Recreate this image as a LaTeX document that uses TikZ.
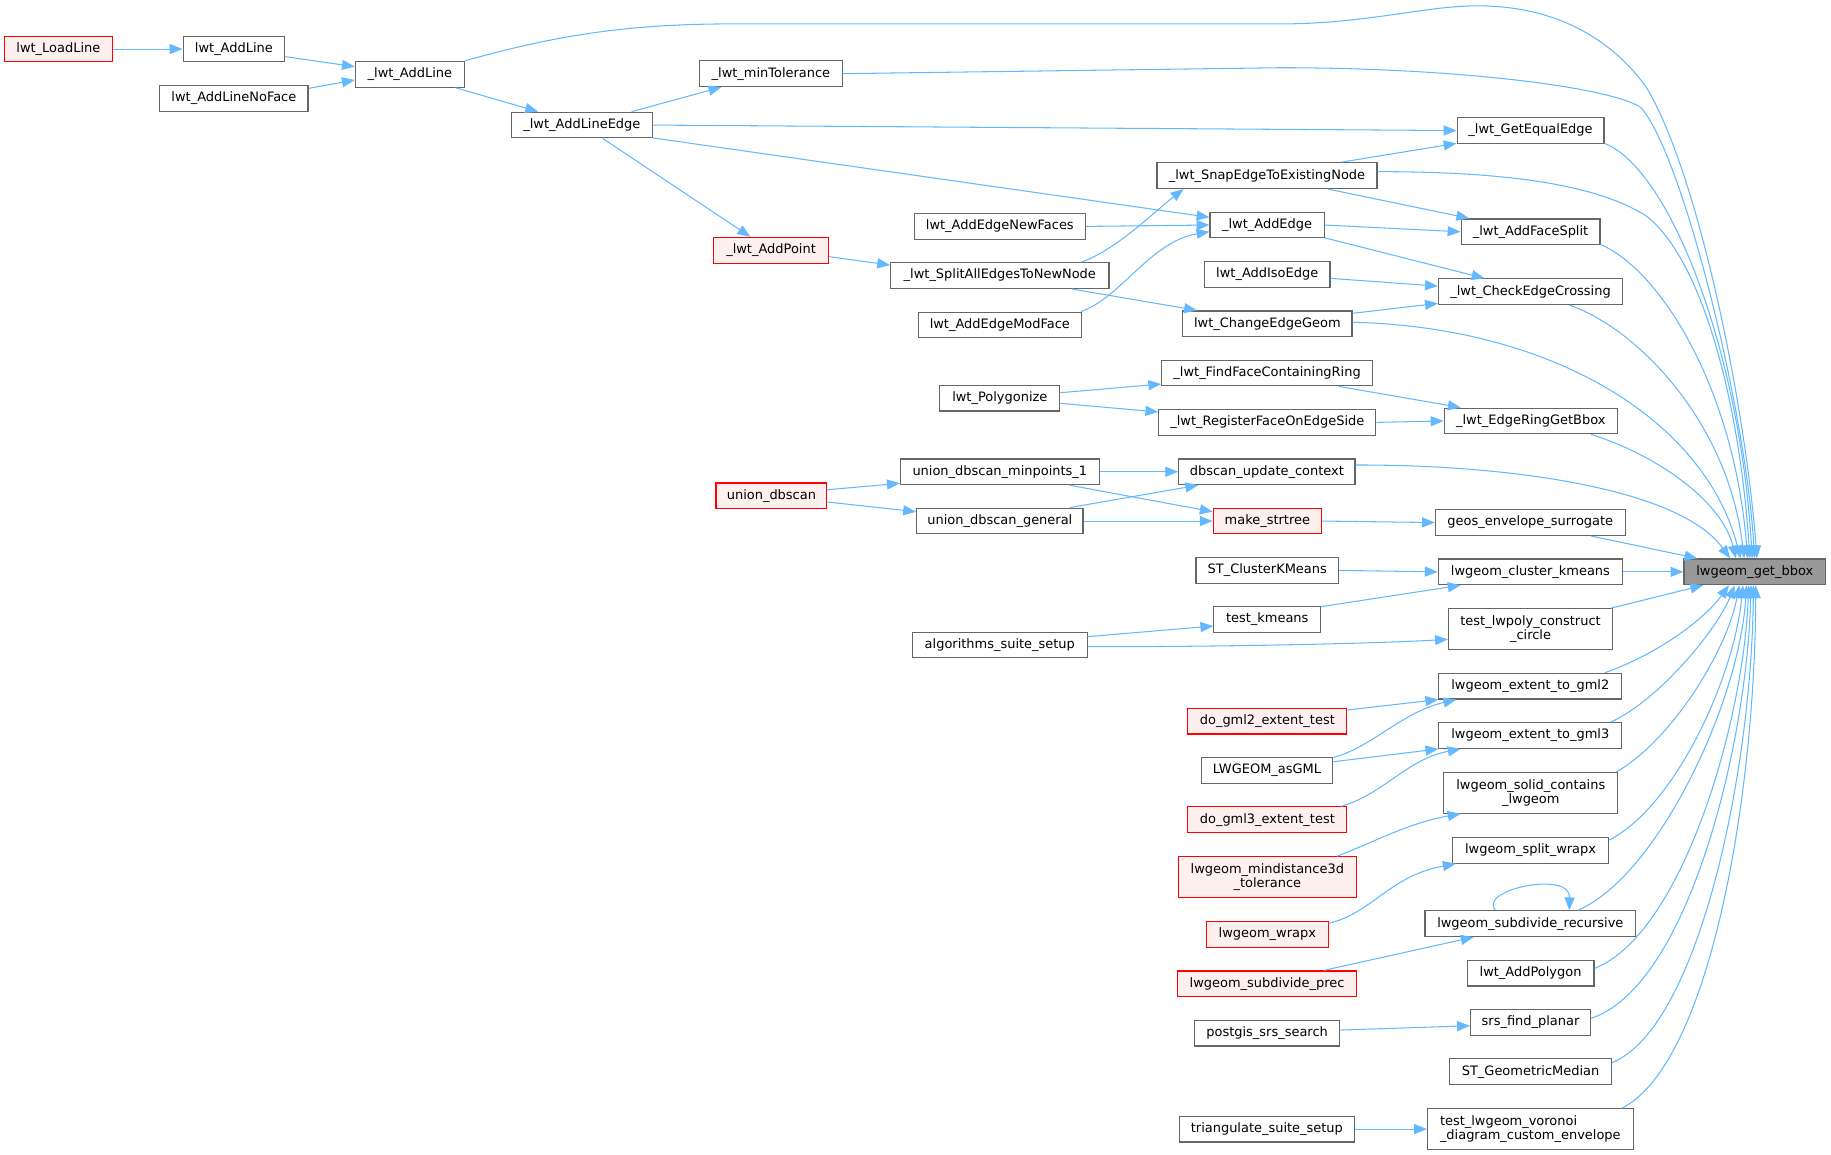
\documentclass[tikz,border=0pt]{standalone}
\usepackage{fontspec}
\setmainfont{DejaVu Sans}
\usetikzlibrary{arrows.meta}
\definecolor{edgeblue}{HTML}{63B8FF}
\definecolor{boxline}{HTML}{666666}
\definecolor{redline}{HTML}{FF0000}
\definecolor{redfill}{HTML}{FFF0F0}
\definecolor{mainfill}{HTML}{999999}
\begin{document}
\begin{tikzpicture}[x=1pt,y=-1pt,
  fn/.style={draw=boxline, fill=white, line width=1pt, minimum height=22pt, inner sep=0pt,
    font=\fontsize{11.1}{12.3}\selectfont, align=center},
  fn2/.style={fn, minimum height=34.7pt},
  redbox/.style={draw=redline, fill=redfill},
  mainbox/.style={fill=mainfill},
  call/.style={draw=edgeblue, line width=0.9pt, -{Triangle[length=11pt,width=8.6pt]}}]
\useasboundingbox (0,0) rectangle (1568,989.1);

\node[fn, redbox, minimum width=92pt] (nloadline) at (50,42) {lwt\_LoadLine};
\node[fn, minimum width=87pt] (naddline) at (200.3,42) {lwt\_AddLine};
\node[fn, minimum width=127pt] (nnoface) at (200.3,84.2) {lwt\_AddLineNoFace};
\node[fn, minimum width=93.3pt] (nuaddline) at (351,63.6) {\_lwt\_AddLine};
\node[fn, minimum width=122.4pt] (nmintol) at (660.2,63.1) {\_lwt\_minTolerance};
\node[fn, minimum width=120.4pt] (nlineedge) at (498.3,107.1) {\_lwt\_AddLineEdge};
\node[fn, minimum width=125.8pt] (ngetequal) at (1310.7,111.8) {\_lwt\_GetEqualEdge};
\node[fn, minimum width=188.5pt] (nsnap) at (1085,150.4) {\_lwt\_SnapEdgeToExistingNode};
\node[fn, minimum width=97.8pt] (naddedge) at (1085.1,192.7) {\_lwt\_AddEdge};
\node[fn, minimum width=146.4pt] (nnewfaces) at (856.2,193.9) {lwt\_AddEdgeNewFaces};
\node[fn, redbox, minimum width=98.6pt] (naddpoint) at (660.3,214.3) {\_lwt\_AddPoint};
\node[fn, minimum width=119pt] (nfacesplit) at (1310.7,198.5) {\_lwt\_AddFaceSplit};
\node[fn, minimum width=187pt] (nsplitall) at (856.2,236) {\_lwt\_SplitAllEdgesToNewNode};
\node[fn, minimum width=107.5pt] (nisoedge) at (1085.2,235) {lwt\_AddIsoEdge};
\node[fn, minimum width=157.7pt] (ncheck) at (1310.7,249.8) {\_lwt\_CheckEdgeCrossing};
\node[fn, minimum width=139.6pt] (nmodface) at (856.2,278.3) {lwt\_AddEdgeModFace};
\node[fn, minimum width=145pt] (nchange) at (1085.3,277.3) {lwt\_ChangeEdgeGeom};
\node[fn, minimum width=180.4pt] (nfindface) at (1085.1,319.4) {\_lwt\_FindFaceContainingRing};
\node[fn, minimum width=102.8pt] (npolygonize) at (856.2,341) {lwt\_Polygonize};
\node[fn, minimum width=185.9pt] (nregister) at (1085.3,361.7) {\_lwt\_RegisterFaceOnEdgeSide};
\node[fn, minimum width=148.5pt] (nedgering) at (1310.9,360.5) {\_lwt\_EdgeRingGetBbox};
\node[fn, minimum width=170.3pt] (nminpoints) at (856.2,404) {union\_dbscan\_minpoints\_1};
\node[fn, minimum width=151pt] (ndbupd) at (1084.9,404) {dbscan\_update\_context};
\node[fn, redbox, minimum width=94.8pt] (nudbscan) at (660.6,424.6) {union\_dbscan};
\node[fn, minimum width=142.5pt] (ngeneral) at (856.2,446.2) {union\_dbscan\_general};
\node[fn, redbox, minimum width=92.6pt] (nstrtree) at (1085.3,446.2) {make\_strtree};
\node[fn, minimum width=162.5pt] (ngeos) at (1310.5,447.5) {geos\_envelope\_surrogate};
\node[fn, mainbox, minimum width=121.3pt] (nbbox) at (1502.7,489.7) {lwgeom\_get\_bbox};
\node[fn, minimum width=157.7pt] (nkmeans) at (1310.6,489.7) {lwgeom\_cluster\_kmeans};
\node[fn, minimum width=122pt] (nstkmeans) at (1085.2,488.5) {ST\_ClusterKMeans};
\node[fn, minimum width=91.4pt] (ntestkmeans) at (1085.2,530.6) {test\_kmeans};
\node[fn, minimum width=149.5pt] (nalgsetup) at (856.2,552.3) {algorithms\_suite\_setup};
\node[fn2, minimum width=140.6pt] (ncircle) at (1310.7,538.7) {test\_lwpoly\_construct\\\_circle};
\node[fn, minimum width=156.6pt] (ngml2) at (1310.5,587.6) {lwgeom\_extent\_to\_gml2};
\node[fn, redbox, minimum width=136.1pt] (ngml2test) at (1085.3,617.6) {do\_gml2\_extent\_test};
\node[fn, minimum width=156.6pt] (ngml3) at (1310.5,629.9) {lwgeom\_extent\_to\_gml3};
\node[fn, minimum width=112.7pt] (nasgml) at (1085,659.6) {LWGEOM\_asGML};
\node[fn2, minimum width=149.2pt] (nsolid) at (1310.9,679) {lwgeom\_solid\_contains\\\_lwgeom};
\node[fn, redbox, minimum width=136.1pt] (ngml3test) at (1085.3,702) {do\_gml3\_extent\_test};
\node[fn2, redbox, minimum width=152.5pt] (nmind3d) at (1085.3,751.1) {lwgeom\_mindistance3d\\\_tolerance};
\node[fn, minimum width=133.8pt] (nsplitwrapx) at (1310.7,728.2) {lwgeom\_split\_wrapx};
\node[fn, redbox, minimum width=104.1pt] (nwrapx) at (1085.3,800.2) {lwgeom\_wrapx};
\node[fn, minimum width=180.4pt] (nsubrec) at (1310.5,791) {lwgeom\_subdivide\_recursive};
\node[fn, redbox, minimum width=153.6pt] (nsubprec) at (1085.1,842.5) {lwgeom\_subdivide\_prec};
\node[fn, minimum width=108.7pt] (naddpolygon) at (1310.7,833.3) {lwt\_AddPolygon};
\node[fn, minimum width=102.8pt] (nsrsplanar) at (1310.7,875.7) {srs\_find\_planar};
\node[fn, minimum width=124.6pt] (nsrssearch) at (1085.1,884.7) {postgis\_srs\_search};
\node[fn, minimum width=138.3pt] (ngeomedian) at (1310.7,917.8) {ST\_GeometricMedian};
\node[fn, minimum width=149.6pt] (ntrisetup) at (1084.9,966.9) {triangulate\_suite\_setup};
\node[fn2, minimum width=176pt, align=left] (nvoronoi) at (1310.5,966.9) {test\_lwgeom\_voronoi\\\_diagram\_custom\_envelope};

% left part
\draw[call] (nloadline.east) -- (naddline.west);
\draw[call] ([yshift=-6.5pt]naddline.east) -- ([yshift=6.5pt]nuaddline.west);
\draw[call] ([yshift=8.5pt]nnoface.east) -- ([yshift=-4.9pt]nuaddline.west);
\draw[call] ([xshift=39pt]nuaddline.south) -- ([xshift=-37.5pt]nlineedge.north);
\draw[call] ([xshift=42.6pt]nlineedge.north) -- ([xshift=-42.4pt]nmintol.south);
\draw[call] (nlineedge.east) -- (ngetequal.west);
\draw[call] ([xshift=17.8pt]nlineedge.south) -- ([xshift=-17.7pt]naddpoint.north);
\draw[call] ([yshift=0.5pt]nlineedge.south east) -- ([yshift=6.6pt]naddedge.west);
\draw[call] ([yshift=-5.5pt]naddpoint.east) -- ([yshift=9pt]nsplitall.west);
\draw[call] ([xshift=69.4pt]nsplitall.north) .. controls (955,215) and (990,180) .. ([xshift=-71.5pt]nsnap.south);
\draw[call] ([xshift=61.8pt]nsplitall.south) -- ([xshift=-60.3pt]nchange.north);
\draw[call] (nnewfaces.east) -- (naddedge.west);
\draw[call] ([xshift=69.4pt]nmodface.north) .. controls (960,255) and (985,207) .. ([yshift=-5.7pt]naddedge.west);
\draw[call] ([xshift=63.4pt]nsnap.north) -- ([yshift=0.5pt]ngetequal.south west);
\draw[call] ([xshift=52.2pt]nsnap.south) -- ([xshift=-52.5pt]nfacesplit.north);
\draw[call] (naddedge.east) -- (nfacesplit.west);
\draw[call] ([yshift=0.5pt]naddedge.south east) -- ([xshift=-39.5pt]ncheck.north);
\draw[call] ([yshift=-3.4pt]nisoedge.east) -- ([yshift=4.8pt]ncheck.west);
\draw[call] ([yshift=9pt]nchange.east) -- ([yshift=-10pt]ncheck.west);
\draw[call] ([yshift=4.7pt]npolygonize.east) -- ([yshift=-9.5pt]nfindface.west);
\draw[call] ([yshift=-4.4pt]npolygonize.east) -- ([yshift=8.9pt]nregister.west);
\draw[call] ([xshift=61.5pt]nfindface.south) -- ([xshift=-60pt]nedgering.north);
\draw[call] (nregister.east) -- (nedgering.west);
\draw[call] ([yshift=5.2pt]nudbscan.east) -- ([yshift=-9.9pt]nminpoints.west);
\draw[call] ([yshift=-5.3pt]nudbscan.east) -- ([yshift=8pt]ngeneral.west);
\draw[call] (nminpoints.east) -- (ndbupd.west);
\draw[call] ([xshift=59.8pt]nminpoints.south) -- ([yshift=8pt]nstrtree.west);
\draw[call] ([xshift=59.8pt]ngeneral.north) -- ([xshift=-58.8pt]ndbupd.south);
\draw[call] (ngeneral.east) -- (nstrtree.west);
\draw[call] (nstrtree.east) -- (ngeos.west);
\draw[call] (nstkmeans.east) -- (nkmeans.west);
\draw[call] ([yshift=-0.4pt]ntestkmeans.north east) -- ([xshift=-59.8pt]nkmeans.south);
\draw[call] ([yshift=7.1pt]nalgsetup.east) -- ([yshift=-5.5pt]ntestkmeans.west);
\draw[call] ([yshift=-1.5pt]nalgsetup.east) .. controls (1050,554) and (1180,551) .. ([yshift=-8.8pt]ncircle.west);
\draw[call] ([yshift=9.6pt]ngml2test.east) -- (ngml2.south west);
\draw[call] ([yshift=-0.5pt]nasgml.north east) .. controls (1175,640) and (1200,610) .. ([xshift=-63.5pt]ngml2.south);
\draw[call] ([yshift=7.3pt]nasgml.east) -- (ngml3.south west);
\draw[call] ([xshift=63.2pt]ngml3test.north) .. controls (1185,680) and (1205,650) .. ([xshift=-59.7pt]ngml3.south);
\draw[call] ([xshift=59.5pt]nmind3d.north) .. controls (1175,722) and (1205,705) .. ([xshift=-60.1pt]nsolid.south);
\draw[call] ([yshift=-2pt]nwrapx.north east) .. controls (1175,782) and (1190,750) .. ([xshift=3.3pt]nsplitwrapx.south west);
\draw[call] ([xshift=-29.9pt]nsubrec.north) .. controls (1265,762) and (1345,745) .. ([xshift=33.3pt]nsubrec.north);
\draw[call] ([xshift=48.5pt]nsubprec.north) -- ([xshift=-48.5pt]nsubrec.south);
\draw[call] ([yshift=2.6pt]nsrssearch.east) -- ([yshift=-2.7pt]nsrsplanar.west);
\draw[call] (ntrisetup.east) -- (nvoronoi.west);

% edges into lwgeom_get_bbox from above
\draw[call] (nuaddline.north east) .. controls (470,32) and (530,21) .. (620,20.5) -- (1096,20.5)
  .. controls (1170,20.5) and (1220,5) .. (1265,5) .. controls (1340,5) and (1385,40) .. (1410,75)
  .. controls (1455,150) and (1495,350) .. ([xshift=63pt]nbbox.north west);
\draw[call] (nmintol.east) -- (1096.5,58) .. controls (1250,58) and (1380,75) .. (1405,92)
  .. controls (1440,130) and (1495,350) .. ([xshift=61pt]nbbox.north west);
\draw[call] ([yshift=0.5pt]ngetequal.south east) .. controls (1430,145) and (1490,300) .. ([xshift=59pt]nbbox.north west);
\draw[call] ([yshift=3.4pt]nsnap.east) .. controls (1300,147) and (1370,160) .. (1410,185)
  .. controls (1460,225) and (1490,350) .. ([xshift=57pt]nbbox.north west);
\draw[call] ([yshift=0.5pt]nfacesplit.south east) .. controls (1420,230) and (1485,330) .. ([xshift=55pt]nbbox.north west);
\draw[call] ([xshift=33pt]ncheck.south) .. controls (1400,280) and (1480,360) .. ([xshift=52pt]nbbox.north west);
\draw[call] ([yshift=1.3pt]nchange.east) .. controls (1330,280) and (1460,360) .. ([xshift=49pt]nbbox.north west);
\draw[call] ([xshift=51.5pt]nedgering.south) .. controls (1420,390) and (1475,430) .. ([xshift=45pt]nbbox.north west);
\draw[call] ([yshift=5.8pt]ndbupd.east) .. controls (1300,398) and (1440,420) .. ([xshift=40pt]nbbox.north west);
\draw[call] ([xshift=51.9pt]ngeos.south) -- ([xshift=12pt]nbbox.north west);
\draw[call] (nkmeans.east) -- (nbbox.west);
% edges into lwgeom_get_bbox from below
\draw[call] ([xshift=-2pt]ncircle.north east) -- ([xshift=17pt]nbbox.south west);
\draw[call] ([xshift=-15pt]ngml2.north east) .. controls (1420,560) and (1460,530) .. ([xshift=39pt]nbbox.south west);
\draw[call] ([xshift=-10pt]ngml3.north east) .. controls (1420,600) and (1470,540) .. ([xshift=44pt]nbbox.south west);
\draw[call] ([xshift=-2pt]nsolid.north east) .. controls (1430,635) and (1478,560) .. ([xshift=48pt]nbbox.south west);
\draw[call] ([yshift=8.8pt]nsplitwrapx.east) .. controls (1435,690) and (1485,580) .. ([xshift=51pt]nbbox.south west);
\draw[call] ([xshift=40.7pt]nsubrec.north) .. controls (1420,750) and (1490,600) .. ([xshift=54pt]nbbox.south west);
\draw[call] ([yshift=4pt]naddpolygon.east) .. controls (1440,800) and (1493,620) .. ([xshift=56pt]nbbox.south west);
\draw[call] ([yshift=3.7pt]nsrsplanar.east) .. controls (1445,845) and (1496,640) .. ([xshift=58pt]nbbox.south west);
\draw[call] ([yshift=7.8pt]ngeomedian.east) .. controls (1455,880) and (1500,660) .. ([xshift=60pt]nbbox.south west);
\draw[call] ([xshift=-10pt]nvoronoi.north east) .. controls (1465,910) and (1503,680) .. ([xshift=62pt]nbbox.south west);
\end{tikzpicture}
\end{document}
